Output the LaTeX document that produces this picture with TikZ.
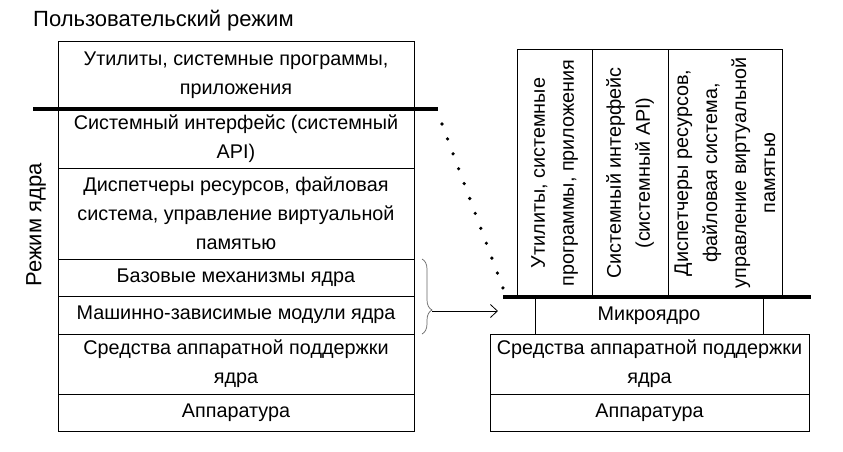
\documentclass[tikz,border=0pt]{standalone}
\usepackage{fontspec}
\setmainfont{Liberation Sans}
\usetikzlibrary{decorations.pathreplacing,arrows.meta}
\begin{document}
\begin{tikzpicture}[x=1pt,y=-1pt,
  txt/.style={font=\fontsize{19.8}{29}\selectfont},
  lbl/.style={font=\fontsize{22}{26}\selectfont,inner sep=0pt},
  layer/.style={txt,draw,line width=0.9pt,inner sep=0pt,outer sep=0pt,align=center,anchor=center},
  thick line/.style={line width=3.5pt},
]
\useasboundingbox (0,0) rectangle (843,451);
% title labels
\node[lbl,anchor=west] (user) at (33,21) {Пользовательский режим};
\node[lbl,rotate=90] (kern) at (36,225) {Режим ядра};
% left stack
\node[layer,minimum width=356,minimum height=68] (L1) at (236,75) {Утилиты, системные программы,\\приложения};
\node[layer,minimum width=356,minimum height=59] (L2) at (236,138.5) {Системный интерфейс (системный\\API)};
\node[layer,minimum width=356,minimum height=91] (L3) at (236,213.5) {Диспетчеры ресурсов, файловая\\система, управление виртуальной\\памятью};
\node[layer,minimum width=356,minimum height=37] (L4) at (236,277.5) {Базовые механизмы ядра};
\node[layer,minimum width=356,minimum height=38] (L5) at (236,315) {Машинно-зависимые модули ядра};
\node[layer,minimum width=356,minimum height=60] (L6) at (236,364) {Средства аппаратной поддержки\\ядра};
\node[layer,minimum width=356,minimum height=37] (L7) at (236,412.5) {Аппаратура};
\coordinate (lt1) at (33,109);
\coordinate (lt2) at (438,109);
\draw[thick line] (lt1) -- (lt2);
% right stack
\node[layer,rotate=90,minimum width=248,minimum height=75] (C1) at (554.5,173) {Утилиты, системные\\программы, приложения};
\node[layer,rotate=90,minimum width=248,minimum height=76] (C2) at (630,173) {Системный интерфейс\\(системный API)};
\node[layer,rotate=90,minimum width=248,minimum height=114] (C3) at (725,173) {Диспетчеры ресурсов,\\файловая система,\\управление виртуальной\\памятью};
\node[layer,minimum width=228,minimum height=37] (M) at (649,315.5) {Микроядро};
\node[layer,minimum width=319,minimum height=60] (R6) at (649.5,364) {Средства аппаратной поддержки\\ядра};
\node[layer,minimum width=319,minimum height=37] (R7) at (649.5,412.5) {Аппаратура};
\coordinate (rt1) at (503,297);
\coordinate (rt2) at (811,297);
\draw[thick line] (rt1) -- (rt2);
% dotted link
\coordinate (d1) at (442,124);
\coordinate (d2) at (503,288);
\draw[line width=3.6pt,line cap=round,dash pattern=on 0pt off 15.9pt] (d1) -- (d2);
% brace and arrow
\draw[gray!80!black,line width=0.7pt,decorate,decoration={brace,amplitude=10pt,aspect=0.68}] (422,259) -- (422,334);
\coordinate (btip) at (432,311);
\coordinate (atip) at (498,311);
\draw[line width=0.8pt,-{Straight Barb[length=7pt,width=13pt]}] (btip) -- (atip);
\end{tikzpicture}
\end{document}
